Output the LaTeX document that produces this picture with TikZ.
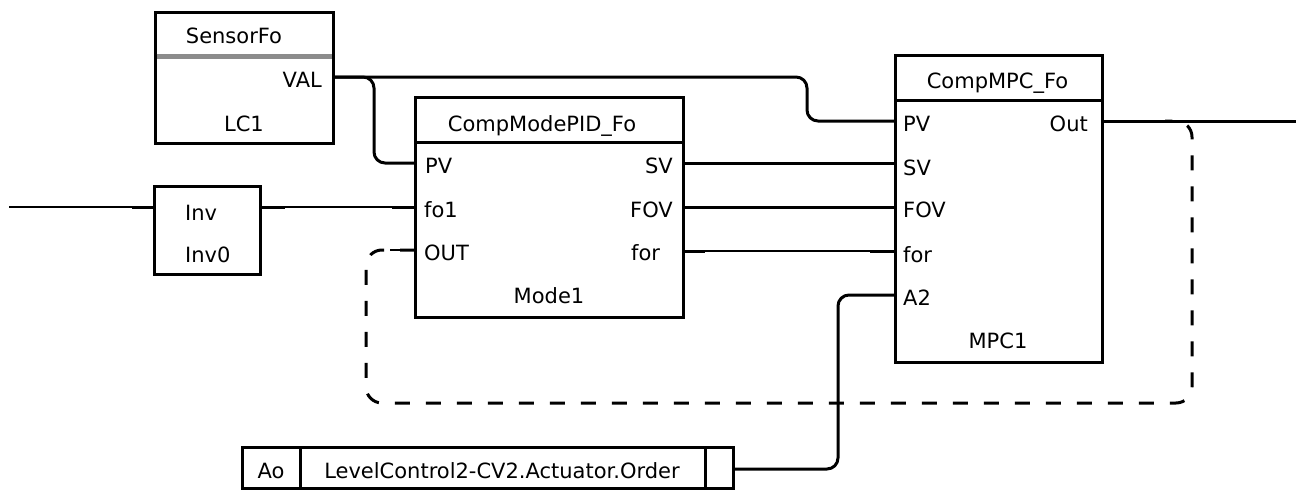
\documentclass[tikz,border=0pt]{standalone}
\usepackage{fontspec}
\setmainfont{DejaVu Sans}
\begin{document}
\begin{tikzpicture}[x=1pt,y=-1pt,
  box/.style={draw, line width=3pt, inner sep=0pt, outer sep=0pt, anchor=north west},
  lbl/.style={font=\fontsize{21}{25}\selectfont, inner sep=0pt, anchor=base},
  lbll/.style={lbl, anchor=base west},
  lblr/.style={lbl, anchor=base east},
  wire/.style={line width=3pt, rounded corners=11pt},
  thinwire/.style={line width=1.5pt},
  stub/.style={line width=3pt},
  dashwire/.style={line width=3pt, dash pattern=on 15pt off 16pt, rounded corners=16pt},
  sepline/.style={line width=3pt},
  graysep/.style={line width=5pt, color=black!45, shorten <=1.5pt, shorten >=1.5pt}
]
\useasboundingbox (0,0) rectangle (1296,490);

% ---- boxes ----
\node[box, minimum width=178pt, minimum height=131pt] (sens) at (155,12) {};
\node[box, minimum width=106pt, minimum height=88pt] (inv) at (154,186) {};
\node[box, minimum width=268pt, minimum height=220pt] (pid) at (415,97) {};
\node[box, minimum width=207pt, minimum height=307pt] (mpc) at (895,55) {};
\node[box, minimum width=491pt, minimum height=41pt] (ao) at (242,447) {};

% separators
\draw[graysep] ([yshift=-44pt]sens.north west) -- ([yshift=-44pt]sens.north east);
\draw[sepline] ([yshift=-45pt]pid.north west) -- ([yshift=-45pt]pid.north east);
\draw[sepline] ([yshift=-45pt]mpc.north west) -- ([yshift=-45pt]mpc.north east);
\draw[sepline] ([xshift=58pt]ao.north west) -- ([xshift=58pt]ao.south west);
\draw[sepline] ([xshift=-28pt]ao.north east) -- ([xshift=-28pt]ao.south east);

% ---- labels ----
\node[lbl] (sensT) at (234,43) {SensorFo};
\node[lblr] (sensV) at (322,87) {VAL};
\node[lbl] (sensN) at (244,131) {LC1};

\node[lbll] (invT) at (185,220) {Inv};
\node[lbll] (invN) at (185,262) {Inv0};

\node[lbl] (pidT) at (542,131) {CompModePID\_Fo};
\node[lbll] (pidL1) at (425,173) {PV};
\node[lbll] (pidL2) at (424,217) {fo1};
\node[lbll] (pidL3) at (424,260) {OUT};
\node[lblr] (pidR1) at (673,173) {SV};
\node[lblr] (pidR2) at (673,217) {FOV};
\node[lbll] (pidR3) at (631,260) {for};
\node[lbl] (pidN) at (549,303) {Mode1};

\node[lbl] (mpcT) at (997.5,88) {CompMPC\_Fo};
\node[lbll] (mpcL1) at (903,131) {PV};
\node[lbll] (mpcL2) at (903,175) {SV};
\node[lbll] (mpcL3) at (903,217) {FOV};
\node[lbll] (mpcL4) at (903,262) {for};
\node[lbll] (mpcL5) at (903,305) {A2};
\node[lblr] (mpcR1) at (1088,131) {Out};
\node[lbl] (mpcN) at (998,348) {MPC1};

\node[lbl] (aoT) at (271,478) {Ao};
\node[lbl] (aoV) at (502,478) {LevelControl2-CV2.Actuator.Order};

% ---- ports ----
\coordinate (valP) at (333,77);
\coordinate (invIn) at (154,207);
\coordinate (invOut) at (260,207);
\coordinate (inL) at (9,207);
\coordinate (pidPV) at (415,163);
\coordinate (pidFo1) at (415,207);
\coordinate (pidOUT) at (415,250);
\coordinate (pidSV) at (683,163);
\coordinate (pidFOV) at (683,207);
\coordinate (pidFor) at (683,251);
\coordinate (mpcPV) at (895,121);
\coordinate (mpcSV) at (895,163);
\coordinate (mpcFOV) at (895,207);
\coordinate (mpcFor) at (895,251);
\coordinate (mpcA2) at (895,295);
\coordinate (mpcOut) at (1102,121);
\coordinate (outEnd) at (1296,121);
\coordinate (outJ) at (1165,121);
\coordinate (aoR) at (733,469);

% ---- connectors ----
\draw[wire] (valP) -- (807,77) -- (807,121) -- (mpcPV);
\draw[wire] (valP) -- (374,77) -- (374,163) -- (pidPV);

\draw[thinwire] (inL) -- (invIn);
\draw[stub] (invIn) -- ++(-22,0);

\draw[thinwire] (invOut) -- (pidFo1);
\draw[stub] (invOut) -- ++(25,0);
\draw[stub] (pidFo1) -- ++(-23,0);

\draw[wire] (pidSV) -- (mpcSV);
\draw[wire] (pidFOV) -- (mpcFOV);

\draw[thinwire] (pidFor) -- (mpcFor);
\draw[stub] (pidFor) -- ++(22,0);
\draw[stub] (mpcFor) -- ++(-25,0);

\draw[dashwire] (pidOUT) -- (366,250) -- (366,403) -- (1192,403) -- (1192,121) -- (outJ);
\draw[line width=2pt] (pidOUT) -- ++(-25,0);

\draw[wire] (mpcOut) -- (outEnd);
\draw[wire] (aoR) -- (838,469) -- (838,295) -- (mpcA2);
\end{tikzpicture}
\end{document}
